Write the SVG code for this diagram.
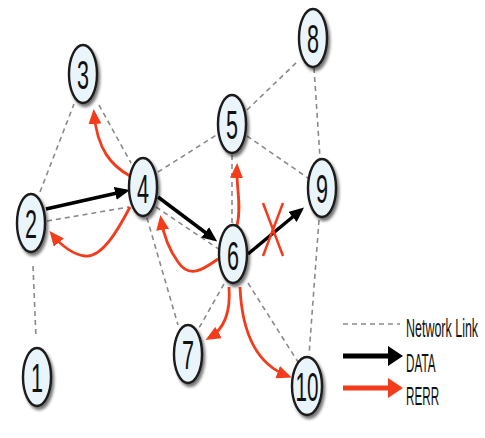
<svg xmlns="http://www.w3.org/2000/svg" width="485" height="438" viewBox="0 0 485 438">
<defs>
<filter id="sh" x="-40%" y="-30%" width="190%" height="170%">
<feDropShadow dx="2" dy="3" stdDeviation="1.5" flood-color="#000" flood-opacity="0.55"/>
</filter>
<marker id="ab" markerUnits="userSpaceOnUse" markerWidth="15" markerHeight="13" refX="11" refY="6.5" orient="auto">
<path d="M0,0 L15,6.5 L0,13 z" fill="#000"/>
</marker>
<marker id="ar" markerUnits="userSpaceOnUse" markerWidth="15" markerHeight="13" refX="11" refY="6.5" orient="auto">
<path d="M0,0 L15,6.5 L0,13 z" fill="#f23c1c"/>
</marker>
<style>
.link{fill:none;stroke:#8a8a8a;stroke-width:1.6;stroke-dasharray:5 4}
.data{fill:none;stroke:#000;stroke-width:3.5;marker-end:url(#ab)}
.rerr{fill:none;stroke:#f23c1c;stroke-width:2.8;marker-end:url(#ar)}
.node ellipse{fill:#eaf4fb;stroke:#1a1a1a;stroke-width:2.4;filter:url(#sh)}
.node text{font-family:"Liberation Sans",Arial,sans-serif;font-size:40px;fill:#111;text-anchor:middle}
.leg{font-family:"Liberation Sans",Arial,sans-serif;font-size:26px;fill:#111}
</style>
</defs>
<rect width="485" height="438" fill="#fff"/>
<g id="connectors">
<path class="link" d="M33,266 L36,338"/>
<path class="link" d="M40,192 L74,104"/>
<path class="link" d="M47,221 L129,207"/>
<path class="link" d="M99,105 L131,163"/>
<path class="link" d="M158,172 L218,134"/>
<path class="link" d="M156,207 L220,250"/>
<path class="link" d="M147,218 L178,325"/>
<path class="link" d="M247,110 L299,60"/>
<path class="link" d="M247,136 L308,178"/>
<path class="link" d="M314,68 L320,158"/>
<path class="link" d="M232,155 L232,226"/>
<path class="link" d="M224,284 L199,328"/>
<path class="link" d="M248,283 L298,362"/>
<path class="link" d="M319,220 L309,355"/>
<path class="data" d="M46,209 L126,191"/>
<path class="data" d="M158,197 L214,239"/>
<path class="data" d="M248,254 L301,210"/>
<path class="rerr" d="M130,176 C112,166 97,150 94,113"/>
<path class="rerr" d="M130,207 C118,230 102,258 85,256 C70,254 60,244 52,234"/>
<path class="rerr" d="M218,259 C205,268 190,280 178,262 C168,248 163,232 161,219"/>
<path class="rerr" d="M237,226 C242,205 236,188 237,167"/>
<path class="rerr" d="M229,287 C231,315 223,330 209,338"/>
<path class="rerr" d="M240,287 C242,335 258,365 288,376"/>
<g id="break" stroke="#f23c1c" stroke-width="2.5">
<line x1="263" y1="203" x2="283" y2="256"/>
<line x1="283" y1="203" x2="263" y2="256"/>
</g>
</g>
<g id="n1" class="node"><ellipse cx="37" cy="377" rx="14" ry="29"/><text x="37" y="392" textLength="12" lengthAdjust="spacingAndGlyphs">1</text></g>
<g id="n2" class="node"><ellipse cx="31" cy="223" rx="14" ry="29"/><text x="31" y="238" textLength="12" lengthAdjust="spacingAndGlyphs">2</text></g>
<g id="n3" class="node"><ellipse cx="83" cy="74" rx="14" ry="29"/><text x="83" y="89" textLength="12" lengthAdjust="spacingAndGlyphs">3</text></g>
<g id="n4" class="node"><ellipse cx="143" cy="187" rx="14" ry="29"/><text x="143" y="203" textLength="12" lengthAdjust="spacingAndGlyphs">4</text></g>
<g id="n5" class="node"><ellipse cx="232" cy="124" rx="14" ry="29"/><text x="232" y="139" textLength="12" lengthAdjust="spacingAndGlyphs">5</text></g>
<g id="n6" class="node"><ellipse cx="233" cy="254" rx="14" ry="29"/><text x="233" y="270" textLength="12" lengthAdjust="spacingAndGlyphs">6</text></g>
<g id="n7" class="node"><ellipse cx="188" cy="354" rx="14" ry="29"/><text x="188" y="369" textLength="12" lengthAdjust="spacingAndGlyphs">7</text></g>
<g id="n8" class="node"><ellipse cx="313" cy="38" rx="14" ry="29"/><text x="313" y="53" textLength="12" lengthAdjust="spacingAndGlyphs">8</text></g>
<g id="n9" class="node"><ellipse cx="322" cy="188" rx="14" ry="29"/><text x="322" y="203" textLength="12" lengthAdjust="spacingAndGlyphs">9</text></g>
<g id="n10" class="node"><ellipse cx="307" cy="386" rx="15" ry="29"/><text x="307" y="401" textLength="23" lengthAdjust="spacingAndGlyphs">10</text></g>
<g id="legend">
<path class="link" d="M343,324 L400,324"/>
<path d="M343,356 L391,356" stroke="#000" stroke-width="5" fill="none"/>
<path d="M388,346 L403,356 L388,366 z" fill="#000"/>
<path d="M343,388 L391,388" stroke="#f23c1c" stroke-width="5" fill="none"/>
<path d="M388,378 L403,388 L388,398 z" fill="#f23c1c"/>
<text class="leg" transform="translate(406,337) scale(0.48,1)">Network Link</text>
<text class="leg" transform="translate(406,372) scale(0.45,1)">DATA</text>
<text class="leg" transform="translate(406,405) scale(0.45,1)">RERR</text>
</g>
</svg>
